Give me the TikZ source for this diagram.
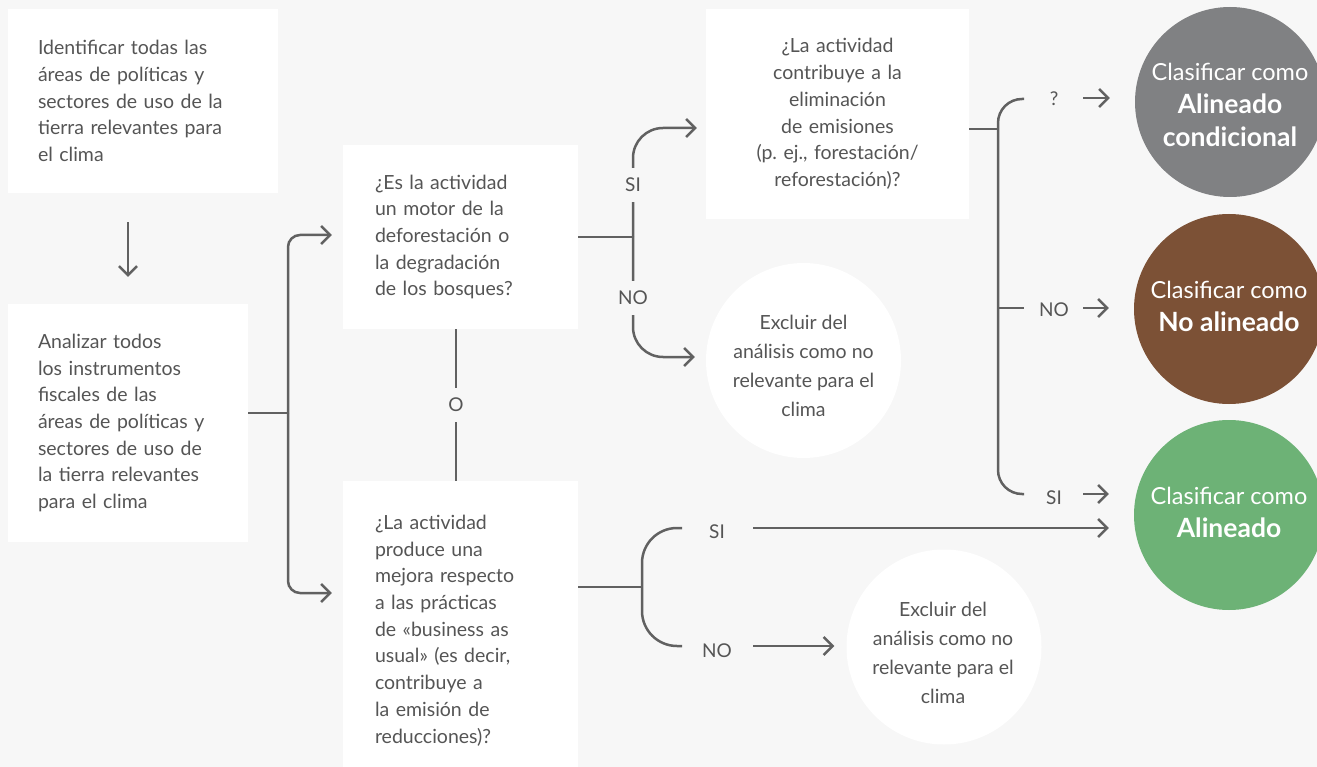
\documentclass[tikz,border=0pt]{standalone}
\usepackage{fontspec}
\setmainfont{Lato}
\frenchspacing
\usetikzlibrary{arrows.meta}
\definecolor{bg}{HTML}{F7F7F7}
\definecolor{ln}{HTML}{616161}
\definecolor{tx}{HTML}{555555}
\definecolor{cgray}{HTML}{808183}
\definecolor{cbrown}{HTML}{7C5136}
\definecolor{cgreen}{HTML}{6DB276}
\begin{document}
\begin{tikzpicture}[x=1pt,y=-1pt,
  box/.style={fill=white, inner sep=0pt, text=tx, font=\fontsize{19.5}{26.7}\selectfont},
  wcirc/.style={circle, fill=white, inner sep=0pt},
  wtext/.style={text=tx, align=center, inner sep=0pt, font=\fontsize{19.5}{29}\selectfont},
  ccirc/.style={circle, inner sep=0pt, minimum size=190pt},
  ctext/.style={text=white, align=center, inner sep=0pt, font=\fontsize{23.5}{33}\selectfont},
  ln/.style={line width=2.5pt, draw=ln},
  arr/.style={ln, -{Straight Barb[length=9pt,width=18pt]}},
  lbl/.style={text=tx, font=\fontsize{19}{22}\selectfont, inner sep=0pt},
  gaplbl/.style={lbl, fill=bg, inner xsep=4pt, inner ysep=10pt}
]
\fill[bg] (0,0) rectangle (1317,767);
\useasboundingbox (0,0) rectangle (1317,767);

% boxes
\node[box, minimum width=270pt, minimum height=184pt, text width=210pt, align=left] (b1) at (143,101)
  {Identificar todas las\\áreas de políticas y\\sectores de uso de la\\tierra relevantes para\\el clima};
\node[box, minimum width=240pt, minimum height=238pt, text width=180pt, align=left] (b2) at (128,423)
  {Analizar todos\\los instrumentos\\fiscales de las\\áreas de políticas y\\sectores de uso de\\la tierra relevantes\\para el clima};
\node[box, minimum width=235pt, minimum height=184pt, text width=171pt, align=left] (b3) at (460.5,237)
  {¿Es la actividad\\un motor de la\\deforestación o\\la degradación\\de los bosques?};
\node[box, minimum width=235pt, minimum height=299pt, text width=171pt, align=left] (b4) at (460.5,630.5)
  {¿La actividad\\produce una\\mejora respecto\\a las prácticas\\de «business as\\usual» (es decir,\\contribuye a\\la emisión de\\reducciones)?};
\node[box, minimum width=263pt, minimum height=210pt, text width=240pt, align=center] (b5) at (837.5,114)
  {¿La actividad\\contribuye a la\\eliminación\\de emisiones\\(p. ej., forestación/\\reforestación)?};

% white circles
\node[wcirc, minimum size=195pt] (w1) at (803.5,360.5) {};
\node[wtext] (w1t) at (803.5,366) {Excluir del\\análisis como no\\relevante para el\\clima};
\node[wcirc, minimum size=195pt] (w2) at (944,647) {};
\node[wtext] (w2t) at (943,653) {Excluir del\\análisis como no\\relevante para el\\clima};

% coloured circles
\node[ccirc, fill=cgray] (c1) at (1230,102) {};
\node[ctext] (c1t) at (1230,105)
  {Clasificar como\\{\fontsize{26.5}{32}\selectfont\bfseries Alineado}\\{\fontsize{26.5}{32}\selectfont\bfseries condicional}};
\node[ccirc, fill=cbrown] (c2) at (1229,309) {};
\node[ctext] (c2t) at (1229,306)
  {Clasificar como\\{\fontsize{26.5}{35}\selectfont\bfseries No alineado}};
\node[ccirc, fill=cgreen] (c3) at (1229,515) {};
\node[ctext] (c3t) at (1229,512)
  {Clasificar como\\{\fontsize{26.5}{35}\selectfont\bfseries Alineado}};

% coordinates
\coordinate (j1) at (288,413);
\coordinate (j2) at (633,237);
\coordinate (j3) at (998,129);
\coordinate (j4) at (642,587);

% box1 -> box2
\draw[arr, shorten <=29pt, shorten >=27pt] (b2.north |- b1.south) -- (b2.north);

% box2 -> box3 / box4
\draw[ln] (b2.east |- j1) -- (j1);
\draw[arr, rounded corners=12pt, shorten >=11pt] (j1) |- (b3.west |- 0,235);
\draw[arr, rounded corners=12pt, shorten >=11pt] (j1) |- (b4.west |- 0,593);

% O link
\draw[ln] (b3.south -| 456,0) -- (b4.north -| 456,0);
\node[gaplbl] (o) at (456,405) {O};

% box3 branch
\draw[ln] (b3.east |- j2) -- (j2);
\draw[arr, rounded corners=30pt, shorten >=9pt] (j2) |- (b5.west |- 0,128);
\draw[arr, rounded corners=30pt, shorten >=11pt] (j2) |- (w1.west |- 0,357);
\node[gaplbl] (si1) at (633,185) {SI};
\node[gaplbl] (no1) at (633,298) {NO};

% box5 branch
\draw[ln] (b5.east |- j3) -- (j3);
\draw[ln, rounded corners=24pt] (1024,99) -- (998,99) -- (998,494) -- (1024,494);
\draw[ln] (998,308) -- (1024,308);
\node[lbl] (q) at (1054,99) {?};
\node[lbl] (no2) at (1054,310) {NO};
\node[lbl] (si2) at (1054,498) {SI};
\coordinate (a1) at (1083,98);
\coordinate (a2) at (1083,308);
\coordinate (a3) at (1083,494);
\draw[arr, shorten >=25pt] (a1) -- (c1.west |- a1);
\draw[arr, shorten >=25pt] (a2) -- (c2.west |- a2);
\draw[arr, shorten >=25pt] (a3) -- (c3.west |- a3);

% box4 branch
\draw[ln] (b4.east |- j4) -- (j4);
\draw[ln, rounded corners=35pt] (682,528) -- (642,528) -- (642,646) -- (682,646);
\node[lbl] (si3) at (717,532) {SI};
\node[lbl] (no3) at (717,651) {NO};
\coordinate (a4) at (753,528);
\coordinate (a5) at (753,646);
\draw[arr, shorten >=25pt] (a4) -- (c3.west |- a4);
\draw[arr, shorten >=12pt] (a5) -- (w2.west |- a5);
\end{tikzpicture}
\end{document}
